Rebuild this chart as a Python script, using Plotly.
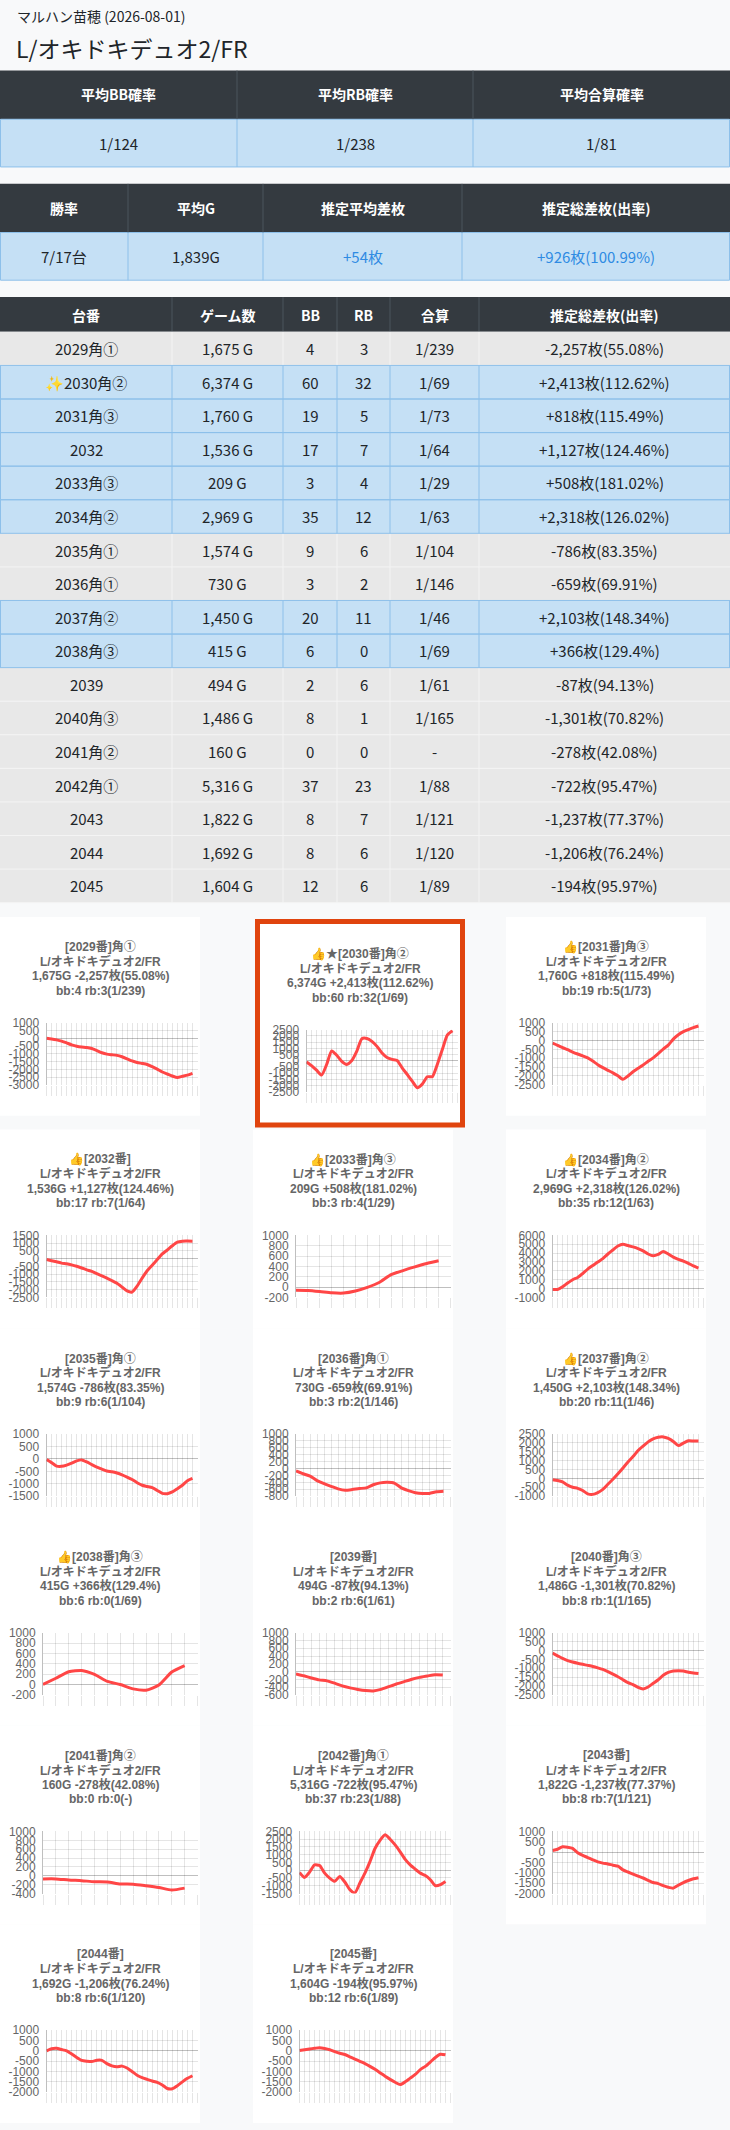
import plotly.graph_objects as go

W, H = 730, 2130

# ---- data read from the page ----
shop_line = "マルハン苗穂 (2026-08-01)"
model_name = "L/オキドキデュオ2/FR"

summary1_head = ["平均BB確率", "平均RB確率", "平均合算確率"]
summary1_vals = ["1/124", "1/238", "1/81"]
summary2_head = ["勝率", "平均G", "推定平均差枚", "推定総差枚(出率)"]
summary2_vals = ["7/17台", "1,839G", "+54枚", "+926枚(100.99%)"]

table_head = ["台番", "ゲーム数", "BB", "RB", "合算", "推定総差枚(出率)"]
machine_no = [2029, 2030, 2031, 2032, 2033, 2034, 2035, 2036, 2037, 2038,
              2039, 2040, 2041, 2042, 2043, 2044, 2045]
corner = ["角①", "角②", "角③", "", "角③", "角②", "角①", "角①", "角②", "角③",
          "", "角③", "角②", "角①", "", "", ""]
games = [1675, 6374, 1760, 1536, 209, 2969, 1574, 730, 1450, 415,
         494, 1486, 160, 5316, 1822, 1692, 1604]
bb = [4, 60, 19, 17, 3, 35, 9, 3, 20, 6, 2, 8, 0, 37, 8, 8, 12]
rb = [3, 32, 5, 7, 4, 12, 6, 2, 11, 0, 6, 1, 0, 23, 7, 6, 6]
combined = ["1/239", "1/69", "1/73", "1/64", "1/29", "1/63", "1/104", "1/146", "1/46",
            "1/69", "1/61", "1/165", "-", "1/88", "1/121", "1/120", "1/89"]
diff = [-2257, 2413, 818, 1127, 508, 2318, -786, -659, 2103, 366,
        -87, -1301, -278, -722, -1237, -1206, -194]
payout = ["55.08", "112.62", "115.49", "124.46", "181.02", "126.02", "83.35", "69.91",
          "148.34", "129.4", "94.13", "70.82", "42.08", "95.47", "77.37", "76.24", "95.97"]
best_no = 2030

# slump graphs (coins), one value per sample point
slump_2029 = [0, -40, -100, -180, -300, -420, -510, -560, -590, -660, -790, -930, -1020, -1060, -1100,
              -1190, -1320, -1460, -1560, -1620, -1690, -1830, -1990, -2170, -2300, -2430, -2530, -2450, -2370, -2257]
slump_2030 = [-90, -390, -760, -1150, -300, 790, 450, -50, -290, 20, 780, 1780, 1800, 1560, 1160,
              620, 260, 110, 30, -570, -1100, -1640, -2170, -1880, -1290, -1280, -280, 920, 2080, 2413]
slump_2031 = [-150, -270, -400, -520, -650, -760, -860, -980, -1160, -1360, -1530, -1680, -1820, -1990, -2190,
              -2000, -1760, -1570, -1380, -1170, -980, -740, -480, -260, 80, 330, 500, 620, 730, 818]
slump_2032 = [-60, -130, -200, -290, -330, -400, -490, -600, -720, -820, -970, -1110, -1250, -1420, -1590,
              -1830, -2080, -2150, -1770, -1250, -780, -420, -60, 310, 560, 830, 1060, 1125, 1130, 1127]
slump_2033 = [-60, -65, -85, -110, -115, -75, -5, 90, 240, 320, 390, 455, 508]
slump_2034 = [-100, -100, 200, 620, 1000, 1250, 1700, 2200, 2600, 3000, 3380, 3900, 4350, 4800, 5000,
              4850, 4700, 4500, 4250, 3900, 3700, 3850, 4180, 3900, 3550, 3300, 3100, 2850, 2550, 2318]
slump_2035 = [-30, -150, -290, -300, -250, -170, -80, -40, -120, -230, -330, -410, -490, -520, -570,
              -640, -730, -830, -960, -1060, -1110, -1160, -1270, -1390, -1400, -1330, -1200, -1060, -880, -786]
slump_2036 = [-70, -150, -220, -350, -440, -515, -590, -630, -610, -580, -560, -470, -415, -400, -420,
              -560, -640, -700, -724, -720, -675, -659]
slump_2037 = [-70, -120, -200, -380, -500, -560, -680, -870, -900, -800, -620, -330, -50, 260, 590,
              930, 1230, 1570, 1820, 2060, 2230, 2320, 2340, 2250, 2080, 1850, 1990, 2120, 2110, 2103]
slump_2038 = [0, 120, 245, 270, 195, 60, 0, -85, -110, -10, 240, 366]
slump_2039 = [-60, -110, -165, -215, -240, -300, -370, -420, -460, -490, -500, -460, -390, -320, -260,
              -200, -150, -115, -80, -87]
slump_2040 = [-150, -300, -450, -570, -650, -720, -780, -840, -900, -980, -1070, -1190, -1330, -1480, -1650,
              -1810, -1920, -2080, -2170, -2060, -1850, -1650, -1400, -1240, -1160, -1140, -1160, -1230, -1270, -1301]
slump_2041 = [-70, -70, -95, -110, -135, -140, -185, -190, -225, -265, -320, -278]
slump_2042 = [-146, -463, -124, 341, 299, -188, -506, -717, -400, -760, -1246, -1458, -823, -188, 552,
              1400, 1928, 2288, 2000, 1630, 1187, 701, 341, 66, -188, -336, -612, -993, -930, -722]
slump_2043 = [80, 140, 260, 240, 180, -30, -160, -260, -370, -470, -530, -570, -630, -680, -860,
              -960, -1060, -1160, -1250, -1360, -1470, -1520, -1620, -1700, -1740, -1600, -1470, -1370, -1290, -1237]
slump_2044 = [0, 100, 120, 60, 0, -150, -320, -460, -500, -520, -460, -460, -620, -730, -770,
              -740, -830, -1000, -1180, -1300, -1380, -1460, -1530, -1650, -1820, -1830, -1690, -1500, -1330, -1206]
slump_2045 = [10, 50, 90, 120, 150, 110, 50, -40, -120, -180, -290, -400, -510, -620, -750,
              -890, -1060, -1230, -1380, -1520, -1630, -1500, -1320, -1140, -910, -750, -540, -320, -170, -194]

slumps = [slump_2029, slump_2030, slump_2031, slump_2032, slump_2033, slump_2034, slump_2035, slump_2036,
          slump_2037, slump_2038, slump_2039, slump_2040, slump_2041, slump_2042, slump_2043, slump_2044, slump_2045]

y_top = [1000, 2500, 1000, 1500, 1000, 6000, 1000, 1000, 2500, 1000, 1000, 1000, 1000, 2500, 1000, 1000, 1000]
y_bottom = [-3000, -2500, -2500, -2500, -200, -1000, -1500, -800, -1000, -200, -600, -2500, -400, -1500,
            -2000, -2000, -2000]
y_step = [500, 500, 500, 500, 200, 1000, 500, 200, 500, 200, 200, 500, 200, 500, 500, 500, 500]

# ---- helpers (pixel -> paper) ----
JP = "Noto Sans CJK JP, DejaVu Sans"
CHART_FONT = "Liberation Sans, Noto Sans CJK JP, DejaVu Sans"
DARK = "#343a40"
DARK_LINE = "#4b545c"
BLUE = "#c5e0f5"
BLUE_LINE = "#8dc0ea"
GRAY = "#e8e8e8"
GRAY_LINE = "#f4f4f4"
TEXT = "#212529"


def X(px):
    return px / W


def Y(py):
    return 1 - py / H


shapes = []
annotations = []


def rect(x0, y0, x1, y1, fill, line=None, lw=0):
    shapes.append(dict(type="rect", xref="paper", yref="paper", layer="below",
                       x0=X(x0), x1=X(x1), y0=Y(y1), y1=Y(y0), fillcolor=fill,
                       line=dict(color=line or fill, width=lw)))


def seg(x0, y0, x1, y1, color, w=1):
    shapes.append(dict(type="line", xref="paper", yref="paper", layer="below",
                       x0=X(x0), x1=X(x1), y0=Y(y0), y1=Y(y1), line=dict(color=color, width=w)))


def text(x, y, s, size=15, color=TEXT, bold=False, family=JP):
    annotations.append(dict(x=X(x), y=Y(y), xref="paper", yref="paper", showarrow=False,
                            text=f"<b>{s}</b>" if bold else s, xanchor="center", yanchor="middle",
                            font=dict(size=size, color=color, family=family)))


def fmt_diff(v):
    return f"{v:+,}枚"


# ---- header text ----
annotations.append(dict(x=X(15), y=Y(9), xref="paper", yref="paper", showarrow=False, text=shop_line,
                        xanchor="left", yanchor="middle", font=dict(size=14, color=TEXT, family=JP)))
annotations.append(dict(x=X(14), y=Y(41), xref="paper", yref="paper", showarrow=False, text=model_name,
                        xanchor="left", yanchor="middle", font=dict(size=23, color=TEXT, family=JP)))

# ---- summary table 1 ----
cols1 = [0, 237, 473, 730]
rect(0, 64, 730, 113, DARK)
rect(0.5, 113, 729.5, 161, BLUE, BLUE_LINE, 1)
for i in range(3):
    if i:
        seg(cols1[i], 64, cols1[i], 113, DARK_LINE)
        seg(cols1[i], 113, cols1[i], 161, BLUE_LINE)
    cx = (cols1[i] + cols1[i + 1]) / 2
    text(cx, 88, summary1_head[i], 14, "white", True)
    text(cx, 137, summary1_vals[i], 15)

# ---- summary table 2 ----
cols2 = [0, 128, 263, 462, 730]
rect(0, 178, 730, 227, DARK)
rect(0.5, 227, 729.5, 275, BLUE, BLUE_LINE, 1)
for i in range(4):
    if i:
        seg(cols2[i], 178, cols2[i], 227, DARK_LINE)
        seg(cols2[i], 227, cols2[i], 275, BLUE_LINE)
    cx = (cols2[i] + cols2[i + 1]) / 2
    text(cx, 202, summary2_head[i], 14, "white", True)
    text(cx, 251, summary2_vals[i], 15, "#2f8be3" if summary2_vals[i].startswith("+") else TEXT)

# ---- machine table ----
cols3 = [0, 172, 283, 337, 390, 479, 730]
rect(0, 292, 730, 327, DARK)
for j in range(1, 6):
    seg(cols3[j], 292, cols3[j], 327, DARK_LINE)
for j in range(6):
    text((cols3[j] + cols3[j + 1]) / 2, 310, table_head[j], 14, "white", True)

row_h = 33.8
top3 = 327
for i in range(len(machine_no)):
    y0 = top3 + row_h * i
    y1 = y0 + row_h
    plus = diff[i] > 0
    rect(0, y0, 730, y1, BLUE if plus else GRAY)
for i in range(len(machine_no)):  # borders: gray first, blue on top
    y0 = top3 + row_h * i
    y1 = y0 + row_h
    if diff[i] <= 0:
        for j in range(1, 6):
            seg(cols3[j], y0, cols3[j], y1, GRAY_LINE)
        seg(0, y1, 730, y1, GRAY_LINE)
for i in range(len(machine_no)):
    y0 = top3 + row_h * i
    y1 = y0 + row_h
    if diff[i] > 0:
        for j in range(0, 7):
            xx = min(max(cols3[j], 0.5), 729.5)
            seg(xx, y0, xx, y1, BLUE_LINE)
        seg(0, y0, 730, y0, BLUE_LINE)
        seg(0, y1, 730, y1, BLUE_LINE)
for i in range(len(machine_no)):
    cy = top3 + row_h * (i + 0.5)
    name = f"{machine_no[i]}{corner[i]}"
    if machine_no[i] == best_no:
        name = "<span style='font-family:DejaVu Sans;color:#212529'>✨</span>" + name
    cells = [name, f"{games[i]:,} G", str(bb[i]), str(rb[i]), combined[i],
             f"{fmt_diff(diff[i])}({payout[i]}%)"]
    for j in range(6):
        text((cols3[j] + cols3[j + 1]) / 2, cy, cells[j], 15)

# ---- slump cards ----
card_cols = [0, 253, 506]
card_rows = [916, 1130, 1330, 1530, 1730, 1930]

fig = go.Figure()
layout_axes = {}
for k, data in enumerate(slumps):
    r, c = divmod(k, 3)
    cx0, cy0 = card_cols[c], card_rows[r]
    if machine_no[k] == best_no:
        cx0, cy0 = 260, 923
        rect(257.5, 920.5, 462.5, 1125.5, "white", "#e0440e", 5)
    else:
        rect(cx0, cy0, cx0 + 200, cy0 + 200, "white")

    mark = ("👍" if diff[k] > 0 else "") + ("★" if machine_no[k] == best_no else "")
    lines = [f"{mark}[{machine_no[k]}番]{corner[k]}", model_name,
             f"{games[k]:,}G {diff[k]:+,}枚({payout[k]}%)",
             f"bb:{bb[k]} rb:{rb[k]}({combined[k]})"]
    for n, s in enumerate(lines):
        text(cx0 + 100, cy0 + 30 + 14.7 * n, s, 12, "#666666", True, CHART_FONT)

    ticks = list(range(y_top[k], y_bottom[k] - 1, -y_step[k]))
    wide = any(len(str(t)) >= 5 for t in ticks)
    left = cx0 + (46.5 if wide else 43)
    right = cx0 + 197.5
    top, bottom = cy0 + 106.5, cy0 + 169

    nlab = len(data) + 1
    s = "" if k == 0 else str(k + 1)
    layout_axes[f"xaxis{s}"] = dict(
        domain=[X(left), X(right)], anchor=f"y{s}", range=[0, nlab - 1],
        tickmode="array", tickvals=list(range(nlab)), showticklabels=False,
        ticks="outside", ticklen=10, tickwidth=1, tickcolor="rgba(0,0,0,0.1)",
        showgrid=True, gridcolor="rgba(0,0,0,0.1)", gridwidth=1,
        zeroline=False, showline=False, fixedrange=True)
    layout_axes[f"yaxis{s}"] = dict(
        domain=[Y(bottom), Y(top)], anchor=f"x{s}", range=[y_bottom[k], y_top[k]],
        tickmode="array", tickvals=ticks, ticktext=[str(t) for t in ticks],
        tickfont=dict(size=12, color="#666666", family=CHART_FONT), ticks="",
        ticklabelstandoff=4, showgrid=True, gridcolor="rgba(0,0,0,0.1)", gridwidth=1,
        zeroline=True, zerolinecolor="rgba(0,0,0,0.25)", zerolinewidth=1,
        showline=True, linecolor="rgba(0,0,0,0.25)", linewidth=1, fixedrange=True)

    fig.add_trace(go.Scatter(
        x=list(range(len(data))), y=data, mode="lines",
        line=dict(color="#ff4646", width=3, shape="spline", smoothing=0.6),
        xaxis=f"x{s}", yaxis=f"y{s}", hoverinfo="skip", showlegend=False))

fig.update_layout(
    width=W, height=H, margin=dict(l=0, r=0, t=0, b=0),
    paper_bgcolor="#f8f9fa", plot_bgcolor="rgba(0,0,0,0)",
    shapes=shapes, annotations=annotations, showlegend=False,
    **layout_axes)

fig.write_html("out.html", config={"displayModeBar": False},
               post_script="document.body.style.margin='0';")
